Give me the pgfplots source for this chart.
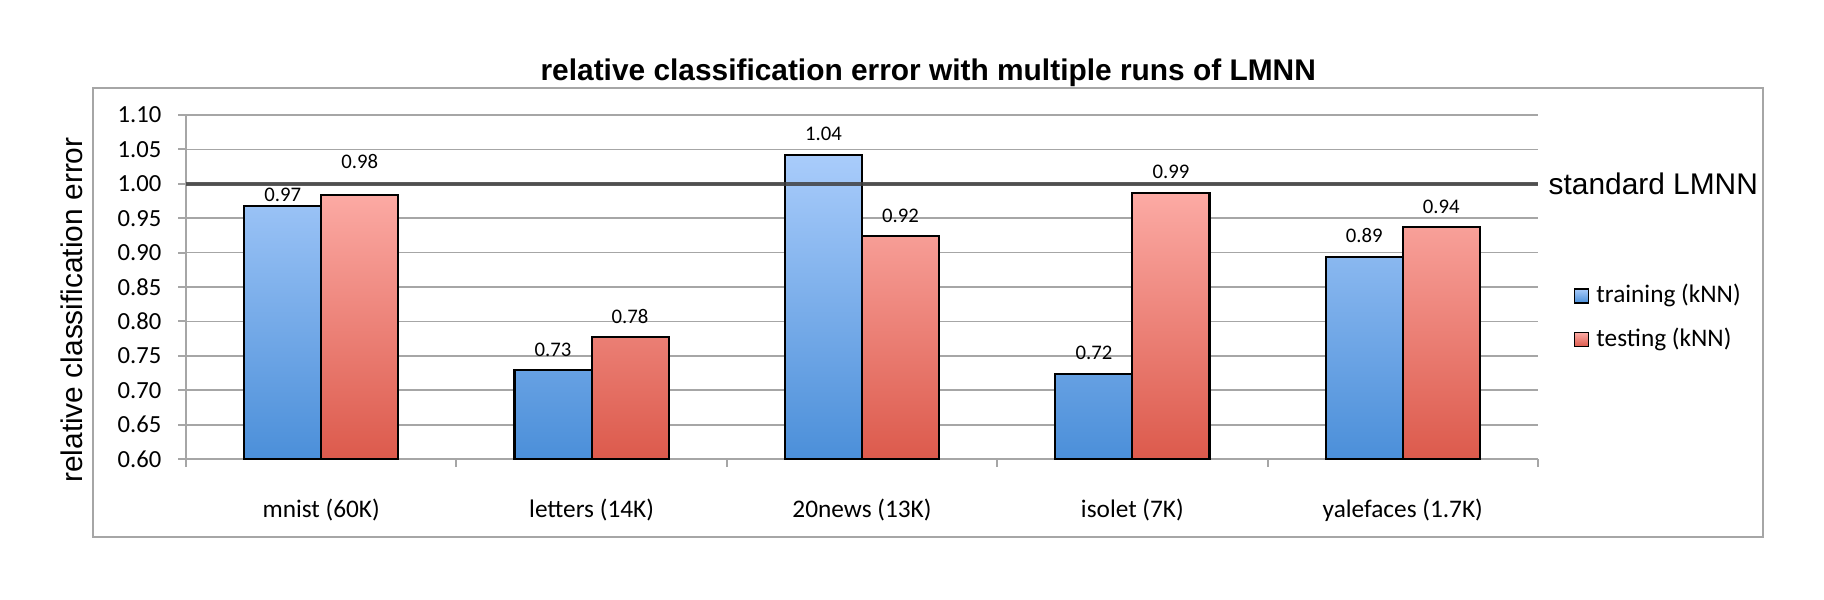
\documentclass[border=0pt]{standalone}
\usepackage{pgfplots}
\pgfplotsset{compat=1.18}
\usepackage{pgfplotstable}
\usepackage{fontspec}
\setmainfont{Carlito}
\newfontfamily\arial{Liberation Sans}

\definecolor{bluetop}{HTML}{A9CCFB}
\definecolor{bluebot}{HTML}{4B8FD9}
\definecolor{redtop}{HTML}{FCAAA4}
\definecolor{redbot}{HTML}{DC5A4C}
\definecolor{gridgray}{HTML}{A6A6A6}

% relative error, label offset (cm)
\pgfplotstableread{
x y off
0 0.968 0.04
1 0.729 0.14
2 1.042 0.14
3 0.724 0.14
4 0.894 0.14
}\training
\pgfplotstableread{
x y off
0 0.984 0.26
1 0.777 0.14
2 0.924 0.14
3 0.987 0.14
4 0.937 0.14
}\testing

\pgfplotsset{
  barlabels/.style={
    nodes near coords={\pgfmathprintnumber[fixed,fixed zerofill,precision=2]{\pgfplotspointmeta}},
    visualization depends on={\thisrow{off} \as \labeloff},
    nodes near coords style={anchor=base, inner sep=0pt, yshift=\labeloff cm, xshift=#1,
      font=\fontsize{5.9}{7}\selectfont, text=black},
  },
}

\begin{document}
\begin{tikzpicture}
\path[use as bounding box] (0,0) rectangle (18.24,-5.99);
\draw[gridgray, line width=0.45pt] (0.93,-0.88) rectangle (17.63,-5.37);
\begin{axis}[
  at={(1.86cm,-4.59cm)}, anchor=south west,
  scale only axis, width=13.52cm, height=3.44cm,
  clip=false,
  xmin=-0.5, xmax=4.5, ymin=0.6, ymax=1.1,
  ytick distance=0.05, xtick={0,...,4},
  xticklabels={mnist (60K), letters (14K), 20news (13K), isolet (7K), yalefaces (1.7K)},
  minor xtick={-0.5,0.5,...,4.5},
  axis x line*=bottom, axis y line*=left,
  axis line style={gridgray, line width=0.6pt, -},
  ymajorgrids, grid style={gridgray, line width=0.5pt},
  tick pos=left, tick align=outside,
  major tick length=0.08cm, minor tick length=0.08cm,
  major x tick style={draw=none},
  minor x tick style={gridgray, line width=0.6pt},
  ytick style={gridgray, line width=0.6pt},
  /pgf/number format/assume math mode=true,
  yticklabel style={font=\fontsize{7}{8}\selectfont, anchor=east, inner sep=0pt, xshift=-0.16cm,
    /pgf/number format/.cd, fixed, fixed zerofill, precision=2},
  xticklabel style={font=\fontsize{7.2}{8}\selectfont, anchor=base, inner sep=0pt, yshift=-0.50cm},
  title={relative classification error with multiple runs of LMNN},
  every axis title/.style={at={(0.549,1.099)}, anchor=base, inner sep=0pt,
    font=\arial\bfseries\fontsize{8.5}{10}\selectfont},
  ylabel={relative classification error},
  every axis y label/.style={at={(-0.0762,0.433)}, rotate=90, anchor=base, inner sep=0pt,
    font=\arial\fontsize{8.5}{10}\selectfont},
  legend style={at={(1,0.411)}, anchor=west, xshift=0.35cm, draw=none, fill=none,
    inner sep=0pt, font=\fontsize{7.2}{8}\selectfont, row sep=0.06cm,
    cells={anchor=west}},
  legend image code/.code={\draw[#1, line width=0.5pt] (0cm,-0.07cm) rectangle (0.14cm,0.07cm);},
]
\addplot[ybar, bar width=0.285, bar shift=-0.1425, draw=black, line width=0.6pt,
  top color=bluetop, bottom color=bluebot, barlabels=-0.385cm] table[x=x, y=y] {\training};
\addlegendentry{training (kNN)}
\addplot[ybar, bar width=0.285, bar shift=0.1425, draw=black, line width=0.6pt,
  top color=redtop, bottom color=redbot, barlabels=0.385cm] table[x=x, y=y] {\testing};
\addlegendentry{testing (kNN)}
\addplot[forget plot, draw=black!75, opacity=0.85, line width=1.1pt]
  coordinates {(-0.5,1) (4.5,1)};
\node[anchor=west, inner sep=0pt, xshift=0.1cm, font=\arial\fontsize{8.5}{10}\selectfont]
  at (axis cs:4.5,1) {standard LMNN};
\end{axis}
\end{tikzpicture}
\end{document}
